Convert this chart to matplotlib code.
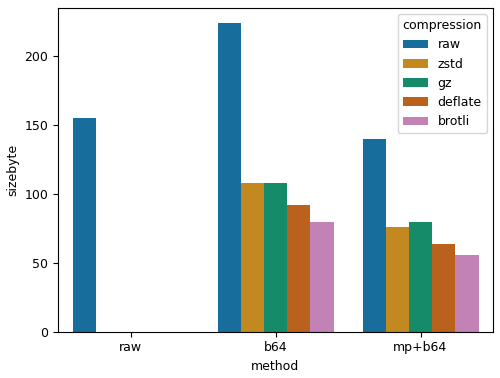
import matplotlib
matplotlib.use("Agg")
import matplotlib.pyplot as plt
import seaborn as sns
import pandas as pd

methods = ["raw", "b64", "b64", "b64", "b64", "b64",
           "mp+b64", "mp+b64", "mp+b64", "mp+b64", "mp+b64"]
compressions = ["raw", "raw", "zstd", "gz", "deflate", "brotli",
                "raw", "zstd", "gz", "deflate", "brotli"]
sizes = [155, 224, 108, 108, 92, 80, 140, 76, 80, 64, 56]

df = pd.DataFrame({"method": methods, "compression": compressions, "sizebyte": sizes})

plt.rcParams["font.size"] = 9
fig, ax = plt.subplots(figsize=(5.0, 3.78), dpi=100)
fig.subplots_adjust(left=0.116, right=0.986, top=0.979, bottom=0.1225)
sns.barplot(data=df, x="method", y="sizebyte", hue="compression",
            palette="colorblind", ax=ax,
            order=["raw", "b64", "mp+b64"],
            hue_order=["raw", "zstd", "gz", "deflate", "brotli"])
ax.legend(title="compression", loc="upper right")
fig.savefig("out.png", dpi=100)
